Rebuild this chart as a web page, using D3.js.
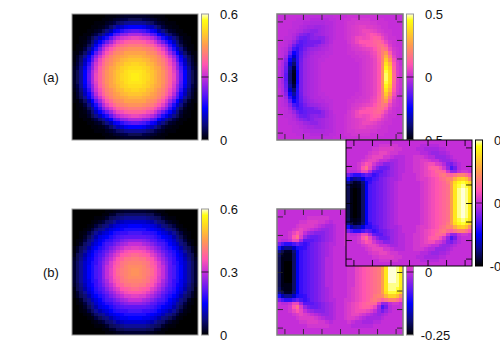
<!DOCTYPE html>
<html><head><meta charset="utf-8">
<script src="https://cdn.jsdelivr.net/npm/d3@7"></script>
<style>html,body{margin:0;background:#fff}svg{display:block}text{font-family:"Liberation Sans",Arial,sans-serif;font-size:13px;fill:#111}</style>
</head><body><svg id="c" width="500" height="350"></svg>
<script>
// Quarter grids, values in units of 0.01. Rows run top edge -> centre, columns centre -> right edge.
const gridA1=[
[2.5,2.5,2.5,2,1.5,1,0.5,0.5,0,0,0,0,0,0,0,0,0],[5,5,4.5,4,3,2.5,1.5,1,0.5,0,0,0,0,0,0,0,0],[9,9,8.5,7,6,4.5,3,2,1,0.5,0.5,0,0,0,0,0,0],
[15,15,14,12,11,9,6,4,2,1.5,1,0.5,0,0,0,0,0],[22,21,20,18,16,14,10,8,5,3,2,1,0.5,0,0,0,0],[28,28,26,25,22,20,15,12,9,6.5,4.5,2.5,1,0.5,0,0,0],
[34,33,32,31,29,26,22,17,14,11,8,5,2.5,1,0.5,0,0],[38,38,37,35,34,31,27,23,19,15,11,7,3.5,1.5,0.5,0,0],[41,41,40,39,38,35,32,29,25,19,14,9,5,2,1,0.5,0],
[44,44,43,42,41,39,36,33,29,23,17,12,8,4,1.5,0.5,0],[46,46,46,44,43,42,39,36,32,27,22,15,10,6,3,1,0.5],[48,48,47,46,45,44,42,39,35,31,26,20,14,9,5,2.5,0.5],
[50,50,49,48,46,45,43,41,38,34,29,22,16,11,6,3,1],[52,51,51,49,48,46,44,42,39,35,31,25,18,12,7,3.5,1.5],[53,53,52,51,49,47,46,43,40,37,32,26,20,14,8.5,4.5,2],
[54,54,53,51,50,48,46,44,41,38,33,28,21,15,9,5,2.5],[55,54,53,52,50,48,46,44,41,38,34,28,22,15,9,5,2.5]];
const gridB1=[
[3,3,3,2.5,2,1.5,1,0.5,0,0,0,0,0,0,0,0,0],[6,6,6,5,5,3,2.5,1,0.5,0,0,0,0,0,0,0,0],[9,9,9,8,7,6,5,3,1.5,0.5,0.5,0,0,0,0,0,0],
[12,12,12,11,10,9,7,6,4,2.5,1.5,0.5,0,0,0,0,0],[15,15,14,14,13,12,10,8,7,5,4,1.5,0.5,0,0,0,0],[17,17,17,16,15,14,13,11,9,8,6,4,1.5,0.5,0,0,0],
[20,20,19,19,18,17,15,13,12,10,9,6,4,1.5,0.5,0,0],[22,22,22,21,20,19,17,15,14,13,10,8,5,2.5,1,0,0],[26,26,25,24,22,21,19,18,16,14,12,9,7,4,1.5,0.5,0],
[30,30,28,27,25,23,21,20,18,15,13,11,8,6,2.5,1,0],[33,32,32,30,28,26,24,21,19,17,15,13,10,7,5,2.5,0.5],[36,36,35,33,31,28,26,23,21,19,17,14,12,9,6,3,1],
[39,38,37,36,33,31,28,25,22,20,18,15,13,10,7,5,1.5],[41,40,40,38,36,33,30,27,24,21,19,16,14,11,8,5,2.5],[42,42,41,40,37,35,32,28,25,22,19,17,14,12,9,6,3],
[43,43,42,40,38,36,32,30,26,22,20,17,15,12,9,6,3],[44,43,42,41,39,36,33,30,26,22,20,17,15,12,9,6,3]];
const gridA2=[
[0,0,1,1,1,1,1,1,1,1,0,0,0,0,0,0,0],[0,1,1,2,2,2,2,2,1,1,1,1,0,0,0,0,0],[0,1,2,2,3,3,3,3,2,2,1,1,1,0,0,0,0],
[0,1,2,3,4,5,5,4,4,3,2,1,1,0,0,0,0],[0,1,2,3,4,5,7,7,6,5,3,2,1,1,0,0,0],[0,1,2,3,4,5,6,8,10,9,7,4,2,1,0,0,0],
[0,1,2,4,7,8,7,8,10,12,11,7,3,1,1,0,0],[0,0,2,4,7,10,10,10,11,13,14,11,6,2,1,0,0],[0,0,1,3,4,6,8,10,11,12,15,16,11,4,1,0,0],
[0,0,1,2,3,4,5,6,7,10,14,18,16,7,2,1,0],[0,0,1,1,2,2,3,4,6,8,13,19,24,12,3,1,0],[0,0,0,1,1,2,2,3,5,7,12,20,29,18,5,1,0],
[0,0,0,0,1,1,2,3,4,6,11,20,34,24,8,2,0],[0,0,0,0,0,1,2,3,4,6,10,21,39,30,10,3,0],[0,0,0,0,0,1,2,3,4,6,10,22,43,34,12,3,1],
[0,0,0,0,0,1,2,3,4,6,10,23,46,37,13,4,1],[0,0,0,0,0,1,2,3,4,6,10,23,47,38,14,4,1]];
const gridB2=[
[0,0,0,0,0,0,0,0,0,0,0,0,0,0,0,0,0],[0,0,0,0,0,0,0,0,0,0,0,0,0,0,0,0,0],[0,0,0,-1,-1,-1,-1,-1,-1,0,0,0,0,0,0,0,0],
[0,0,1,0,-1,-1,-2,-2,-2,-1,-1,0,0,0,0,0,0],[0,1,2,2,1,0,-1,-2,-2,-2,-2,-1,0,0,0,0,0],[0,1,2,3,3,2,1,0,-1,-2,-3,-2,-1,0,0,0,0],
[0,1,2,3,4,4,4,3,2,0,-3,-5,-3,-1,0,0,0],[0,1,2,3,4,5,6,6,5,3,-2,-8,-5,-1,0,0,0],[0,1,2,3,4,5,6,7,7,7,2,-3,-3,0,1,1,0],
[0,1,1,2,3,4,5,6,8,9,8,6,8,10,10,8,5],[0,0,1,2,3,4,5,6,7,9,10,11,15,18,18,16,11],[0,0,1,2,3,4,5,6,7,8,9,13,19,23,23,21,18],
[0,0,1,2,3,4,5,6,7,8,9,13,20,24,24,23,20],[0,0,1,1,3,4,5,6,7,8,9,13,20,24,24,24,21],[0,0,1,1,3,4,5,6,7,8,9,13,20,25,25,24,21],
[0,0,1,1,3,4,5,6,7,8,9,13,20,25,25,24,21],[0,0,1,1,3,4,5,6,7,8,9,13,20,25,25,24,21]];
const gridInset=[
[0,0,0,0,0,0,0,0,0,0,0,0,0,0,0,0,0],[0,0,0,-1,-1,-1,-1,-1,0,0,0,0,0,0,0,0,0],[0,0,-1,-1,-2,-2,-2,-2,-1,-1,0,0,0,0,0,0,0],
[0,0,0,-1,-1,-2,-3,-3,-2,-2,-1,0,0,0,0,0,0],[0,1,1,1,0,-1,-1,-3,-3,-3,-2,-1,0,0,0,0,0],[0,1,1,2,2,1,0,0,-2,-3,-3,-2,-1,0,0,0,0],
[0,1,1,2,3,4,4,2,1,-1,-4,-5,-3,-1,0,0,0],[0,1,1,2,3,5,6,6,4,1,-3,-8,-5,-1,0,0,0],[0,1,1,2,3,4,5,7,7,6,1,-3,-3,0,1,1,0],
[0,0,1,2,3,4,5,6,8,9,7,6,8,10,10,8,5],[0,0,1,2,2,3,4,5,7,8,10,10,14,17,18,16,11],[0,0,0,1,2,3,4,5,6,7,9,13,19,22,23,21,18],
[0,0,0,1,2,3,4,5,6,7,8,13,20,23,24,23,20],[0,0,0,1,2,3,4,5,6,7,8,13,20,24,25,24,21],[0,0,0,1,2,3,4,5,6,7,8,13,20,24,25,24,21],
[0,0,0,1,2,3,4,5,6,7,8,13,20,24,25,24,21],[0,0,0,1,2,3,4,5,6,7,8,13,20,24,25,24,21]];

const paletteStops=[0,0.12,0.25,0.36,0.5,0.6,0.75,0.87,0.95,1];
const paletteColors=["#000000","#0a0a78","#0000ff","#5a18f5","#c42fd8","#ff55b0","#ff9a50","#ffd820","#ffff10","#ffffd8"];
const gridTicks=[-15,-10,-5,0,5,10,15];
const ticksPos=[0,0.3,0.6], labelsPos=["0","0.3","0.6"];
const ticksA=[-0.5,0,0.5], labelsA=["-0.5","0","0.5"];
const ticksB=[-0.25,0,0.25], labelsB=["-0.25","0","0.25"];
const rowLabels=["(a)","(b)"];

const svg=d3.select("#c");
const cellIdx=d3.range(34);
const pal=d3.scaleLinear().domain(paletteStops).range(paletteColors).clamp(true);
const defs=svg.append("defs");
defs.append("linearGradient").attr("id","pg").attr("x1",0).attr("x2",0).attr("y1",1).attr("y2",0)
  .selectAll("stop").data(paletteStops).join("stop").attr("offset",d=>d).attr("stop-color",d=>pal(d));
defs.append("filter").attr("id","soft").attr("x","-5%").attr("y","-5%").attr("width","110%").attr("height","110%")
  .append("feGaussianBlur").attr("stdDeviation",0.7);

function panel(o,idx){
  const S=126, W=7;
  const x=d3.scaleLinear().domain([-17,17]).range([o.x,o.x+S]);
  const y=d3.scaleLinear().domain([17,-17]).range([o.y,o.y+S]);
  const cbY=d3.scaleLinear().domain(o.domain).range([o.y+S,o.y]);
  const color=d3.scaleLinear().domain(o.domain).range([0,1]);
  const g=svg.append("g");
  g.append("rect").attr("x",o.x).attr("y",o.y).attr("width",S).attr("height",S).attr("fill","#fff");
  const cid="clip"+idx;
  defs.append("clipPath").attr("id",cid).append("rect").attr("x",o.x).attr("y",o.y).attr("width",S).attr("height",S);
  const cells=[];
  cellIdx.forEach(i=>cellIdx.forEach(j=>{
    const col=i>=17?i-17:16-i, row=j<17?j:33-j;
    const s=(o.odd&&i<17)?-1:1;
    cells.push({i,j,v:s*o.grid[row][col]/100});
  }));
  g.append("g").attr("clip-path",`url(#${cid})`).append("g").attr("filter","url(#soft)")
    .attr("shape-rendering","crispEdges").selectAll("rect").data(cells).join("rect")
    .attr("x",d=>x(d.i-17)).attr("y",d=>y(17-d.j))
    .attr("width",x(1)-x(0)+1).attr("height",y(0)-y(1)+1)
    .attr("fill",d=>pal(color(d.v)));
  if(o.ticks){
    const mk=(a,sc,tr)=>g.append("g").attr("transform",tr)
      .call(a(sc).tickValues(gridTicks).tickSize(-6).tickFormat(""))
      .call(s=>s.select(".domain").remove())
      .call(s=>s.selectAll("line").attr("stroke",o.edge==="#000"?"#000":"#222").attr("stroke-opacity",0.85));
    mk(d3.axisTop,x,`translate(0,${o.y})`);
    mk(d3.axisBottom,x,`translate(0,${o.y+S})`);
    mk(d3.axisLeft,y,`translate(${o.x},0)`);
    mk(d3.axisRight,y,`translate(${o.x+S},0)`);
  }
  g.append("rect").attr("x",o.x).attr("y",o.y).attr("width",S).attr("height",S)
    .attr("fill","none").attr("stroke",o.edge).attr("stroke-width",o.edgeW);
  const cx=o.x+S+3.5;
  g.append("rect").attr("x",cx).attr("y",o.y).attr("width",W).attr("height",S)
    .attr("fill","url(#pg)").attr("stroke",o.edge==="#000"?"#000":"#999").attr("stroke-width",1);
  const ax=g.append("g").attr("transform",`translate(${cx},0)`)
    .call(d3.axisRight(cbY).tickValues(o.cbTicks).tickSize(0).tickFormat((d,i)=>o.cbLabels[i]));
  ax.select(".domain").remove();
  ax.selectAll("text").attr("x",d=>o.labelX-(d<0?4.3:0)).attr("dy","0.35em").style("text-anchor","start");
  g.append("line").attr("x1",cx).attr("x2",cx+W)
    .attr("y1",cbY((o.domain[0]+o.domain[1])/2)).attr("y2",cbY((o.domain[0]+o.domain[1])/2))
    .attr("stroke","#3a1040").attr("stroke-width",1);
  return g;
}
const grey="#7d7d7d";
panel({x:72,y:14,grid:gridA1,domain:[0,0.6],cbTicks:ticksPos,cbLabels:labelsPos,edge:"#999",edgeW:1,labelX:18.5},0);
panel({x:72,y:209,grid:gridB1,domain:[0,0.6],cbTicks:ticksPos,cbLabels:labelsPos,edge:"#999",edgeW:1,labelX:18.5},1);
panel({x:277,y:14,grid:gridA2,domain:[-0.5,0.5],odd:true,ticks:true,cbTicks:ticksA,cbLabels:labelsA,edge:grey,edgeW:1.5,labelX:18.5},2);
panel({x:277,y:209,grid:gridB2,domain:[-0.25,0.25],odd:true,ticks:true,cbTicks:ticksB,cbLabels:labelsB,edge:grey,edgeW:1.5,labelX:18.5},3);
panel({x:346,y:140,grid:gridInset,domain:[-0.25,0.25],odd:true,ticks:true,cbTicks:ticksB,cbLabels:labelsB,edge:"#000",edgeW:1,labelX:18.5},4);
svg.selectAll(".rowLabel").data(rowLabels).join("text").attr("class","rowLabel")
  .attr("x",43).attr("y",(d,i)=>[82,277][i]).text(d=>d);
</script></body></html>
